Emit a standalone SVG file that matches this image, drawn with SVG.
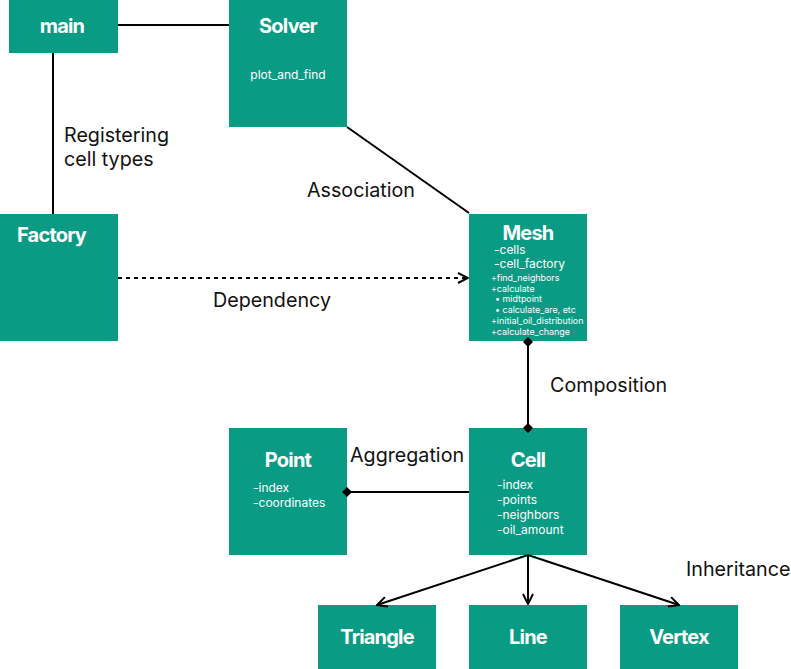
<svg xmlns="http://www.w3.org/2000/svg" width="791" height="669" viewBox="0 0 791 669">
<defs>
<style>
.box{fill:#0a9b84}
.t{font-family:Inter,"Liberation Sans",sans-serif;font-weight:700;font-size:20px;fill:#fff;letter-spacing:-0.8px}
.a{font-family:Inter,"Liberation Sans",sans-serif;font-size:12px;fill:#fff}
.s{font-family:Inter,"Liberation Sans",sans-serif;font-size:8.9px;fill:#fff}
.l{font-family:Inter,"Liberation Sans",sans-serif;font-size:19.7px;fill:#111}
.ln{stroke:#000;stroke-width:2;fill:none}
</style>
<marker id="open" viewBox="0 0 12 12" refX="11" refY="6" markerWidth="12" markerHeight="12" markerUnits="userSpaceOnUse" orient="auto">
<path d="M1,1 L11,6 L1,11" fill="none" stroke="#000" stroke-width="2"/>
</marker>
<marker id="dia" viewBox="0 0 12 12" refX="6" refY="6" markerWidth="12" markerHeight="12" markerUnits="userSpaceOnUse" orient="auto">
<path d="M1,6 L6,1 L11,6 L6,11 Z" fill="#000"/>
</marker>
</defs>
<g id="main">
<rect class="box" x="9" y="0" width="109" height="53"/>
<text class="t" x="62" y="33" text-anchor="middle">main</text>
</g>
<g id="solver">
<rect class="box" x="229" y="0" width="118" height="127"/>
<text class="t" x="288" y="33" text-anchor="middle">Solver</text>
<text class="a" x="288" y="79" text-anchor="middle" font-size="11">plot_and_find</text>
</g>
<g id="factory">
<rect class="box" x="0" y="214" width="118" height="127"/>
<text class="t" x="17" y="242">Factory</text>
</g>
<g id="mesh">
<rect class="box" x="469" y="214" width="118" height="127"/>
<text class="t" x="528" y="240" text-anchor="middle">Mesh</text>
<text class="a" x="494" y="254">-cells</text>
<text class="a" x="494" y="268">-cell_factory</text>
<text class="s" x="491" y="281">+find_neighbors</text>
<text class="s" x="491" y="291.5">+calculate</text>
<text class="s" x="495" y="302">•  midtpoint</text>
<text class="s" x="495" y="313">•  calculate_are, etc</text>
<text class="s" x="491" y="324">+initial_oil_distribution</text>
<text class="s" x="491" y="335">+calculate_change</text>
</g>
<g id="point">
<rect class="box" x="229" y="428" width="118" height="127"/>
<text class="t" x="288" y="467" text-anchor="middle">Point</text>
<text class="a" x="253" y="492">-index</text>
<text class="a" x="253" y="507">-coordinates</text>
</g>
<g id="cell">
<rect class="box" x="469" y="428" width="118" height="127"/>
<text class="t" x="528" y="467" text-anchor="middle">Cell</text>
<text class="a" x="497" y="489">-index</text>
<text class="a" x="497" y="504">-points</text>
<text class="a" x="497" y="519">-neighbors</text>
<text class="a" x="497" y="534">-oil_amount</text>
</g>
<g id="triangle">
<rect class="box" x="318" y="605" width="118" height="64"/>
<text class="t" x="377" y="644" text-anchor="middle">Triangle</text>
</g>
<g id="line">
<rect class="box" x="469" y="605" width="118" height="64"/>
<text class="t" x="528" y="644" text-anchor="middle">Line</text>
</g>
<g id="vertex">
<rect class="box" x="620" y="605" width="118" height="64"/>
<text class="t" x="679" y="644" text-anchor="middle">Vertex</text>
</g>
<g id="connectors">
<line class="ln" x1="118" y1="25" x2="229" y2="25" stroke-width="1.5"/>
<line class="ln" x1="53" y1="53" x2="53" y2="214"/>
<line class="ln" x1="347" y1="127" x2="469" y2="213"/>
<line class="ln" x1="118" y1="278" x2="468" y2="278" stroke-dasharray="4,4" marker-end="url(#open)"/>
<line class="ln" x1="528" y1="342" x2="528" y2="428" marker-start="url(#dia)" marker-end="url(#dia)"/>
<line class="ln" x1="469" y1="492" x2="347" y2="492" marker-end="url(#dia)"/>
<line class="ln" x1="528" y1="555" x2="377" y2="605" marker-end="url(#open)"/>
<line class="ln" x1="528" y1="555" x2="528" y2="604" marker-end="url(#open)"/>
<line class="ln" x1="528" y1="555" x2="679" y2="605" marker-end="url(#open)"/>
<text class="l" x="64" y="142">Registering</text>
<text class="l" x="64" y="166">cell types</text>
<text class="l" x="307" y="197">Association</text>
<text class="l" x="213" y="307">Dependency</text>
<text class="l" x="550" y="392">Composition</text>
<text class="l" x="350" y="462">Aggregation</text>
<text class="l" x="686" y="576">Inheritance</text>
</g>
</svg>
